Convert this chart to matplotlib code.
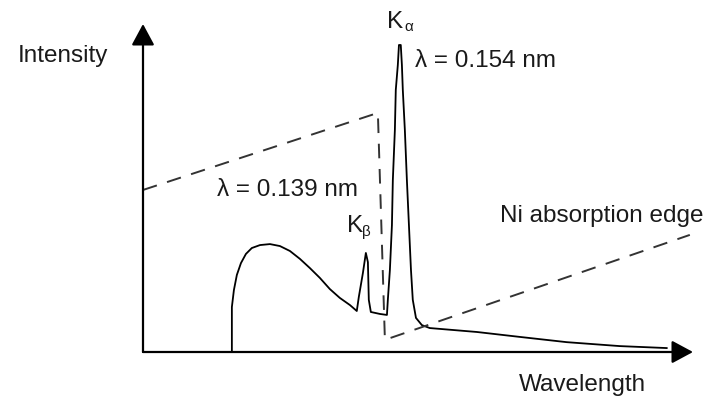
import matplotlib
matplotlib.use("Agg")
import matplotlib.pyplot as plt

plt.rcParams['font.family'] = ['Liberation Sans', 'DejaVu Sans']

# X-ray tube spectrum (Cu target), wavelength in nm, intensity in arbitrary units
wavelength = [0.0799, 0.0799, 0.0808, 0.0821, 0.0839, 0.0861, 0.0887, 0.0923,
              0.0967, 0.1011, 0.1055, 0.1099, 0.1143, 0.1187, 0.1231, 0.1275,
              0.1320, 0.1350,
              0.1359, 0.1377, 0.1390, 0.1399, 0.1403, 0.1412, 0.1452, 0.1483,
              0.1487, 0.1496, 0.1505, 0.1509, 0.1518, 0.1522, 0.1531, 0.1536,
              0.1544, 0.1549, 0.1553, 0.1562, 0.1571, 0.1580, 0.1589, 0.1597,
              0.1611, 0.1637, 0.1672, 0.1880, 0.2069, 0.2276, 0.2510, 0.2717]
intensity = [0.0, 13.7, 18.9, 23.5, 27.1, 29.9, 31.7, 32.6,
             32.9, 32.3, 30.8, 28.4, 25.6, 22.6, 19.2, 16.5,
             14.3, 12.5,
             16.8, 24.1, 30.2, 27.4, 15.9, 12.2, 11.6, 11.3,
             15.9, 25.0, 38.7, 52.4, 67.7, 79.9, 87.5, 93.6,
             93.6, 87.5, 79.9, 67.7, 52.4, 38.7, 25.0, 15.9,
             10.4, 8.2, 7.3, 6.1, 4.6, 3.0, 1.8, 1.2]

# Ni filter absorption curve (dashed)
filter_wl = [0.0407, 0.1443, 0.1474, 0.2819]
filter_abs = [49.4, 72.9, 3.7, 35.7]

x_range = (0.0407, 0.2833)
y_range = (0, 100)

fig = plt.figure(figsize=(7.1, 4.01), dpi=100)
ax = fig.add_axes([143 / 710, 49 / 401, 550 / 710, 328 / 401])
ax.set_xlim(*x_range)
ax.set_ylim(*y_range)
ax.axis('off')

arrow = dict(arrowstyle='-|>,head_length=1.3,head_width=0.7', mutation_scale=10,
             lw=1.6, color='black', shrinkA=0, shrinkB=0)
ax.annotate('', xy=(1, 0), xytext=(0, 0), xycoords='axes fraction', arrowprops=arrow)
ax.annotate('', xy=(0, 1), xytext=(0, 0), xycoords='axes fraction', arrowprops=arrow)

ax.plot(wavelength, intensity, color='black', lw=1.3, clip_on=False)
ax.plot(filter_wl, filter_abs, color='#333333', lw=1.4, dashes=(7.5, 5.5), clip_on=False)

fs = 17.5
tc = '#1a1a1a'
ax.text(0.1485, 98.8, 'K', fontsize=fs, color=tc, va='baseline')
ax.text(0.1560, 97.9, 'α', fontsize=11, color=tc, va='baseline')
ax.text(0.1606, 86.9, 'λ = 0.154 nm', fontsize=fs, color=tc, va='baseline')
ax.text(0.0733, 47.6, 'λ = 0.139 nm', fontsize=fs, color=tc, va='baseline')
ax.text(0.1306, 36.6, 'K', fontsize=fs, color=tc, va='baseline')
ax.text(0.1375, 35.4, 'β', fontsize=11, color=tc, va='baseline')
ax.text(0.1981, 39.6, 'Ni absorption edge', fontsize=fs, color=tc, va='baseline')

fig.text(18 / 710, 1 - 62 / 401, 'Intensity', fontsize=fs, color=tc, va='baseline')
fig.text(519 / 710, 1 - 391 / 401, 'Wavelength', fontsize=fs, color=tc, va='baseline')

fig.savefig('out.png', dpi=100)
